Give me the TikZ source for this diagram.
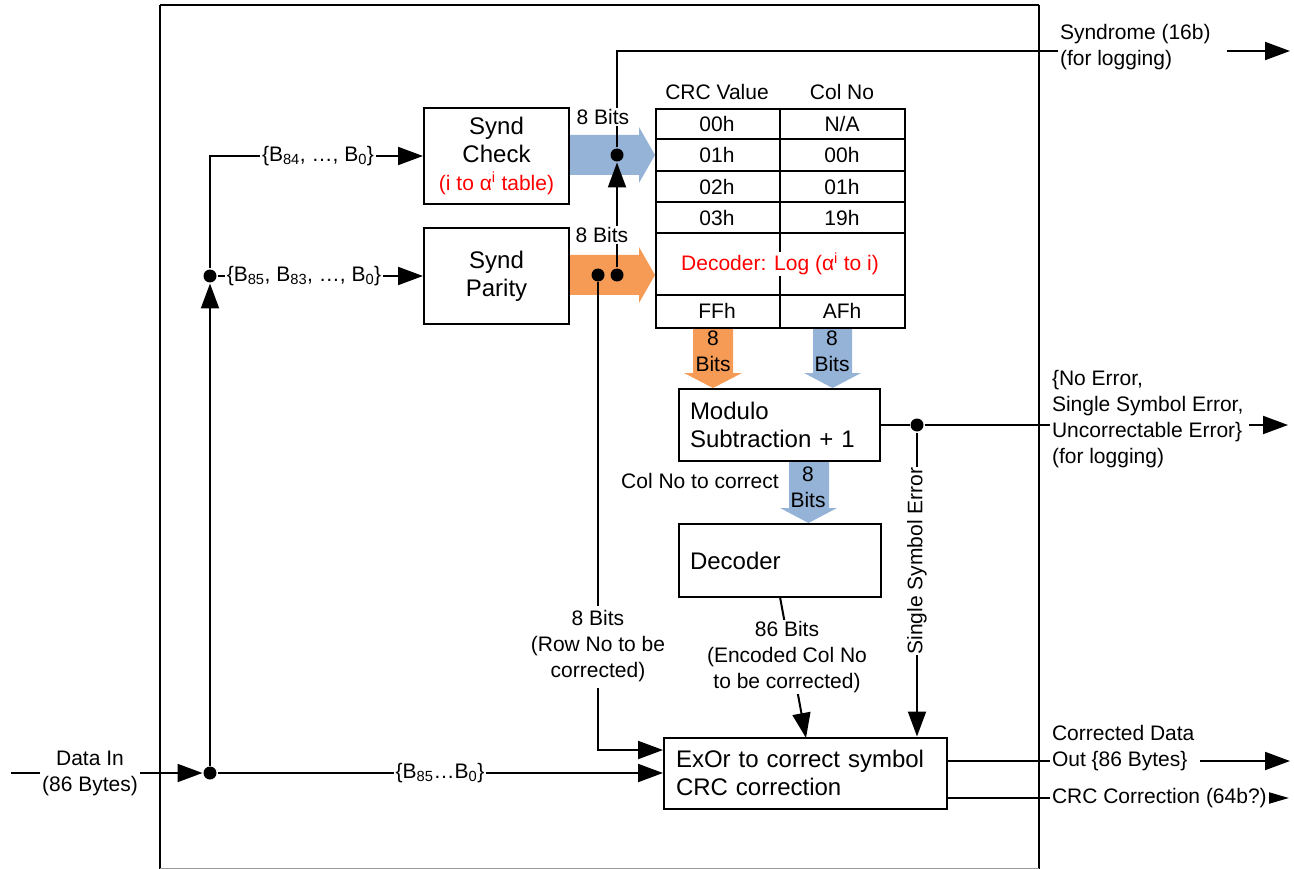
\documentclass[tikz,border=0pt]{standalone}
\usepackage{fontspec}
\setmainfont{Liberation Sans}
\usetikzlibrary{arrows.meta,calc}
\definecolor{bfill}{HTML}{95B3D7}
\definecolor{ofill}{HTML}{F69B55}
\newcommand\boxfont{\fontsize{24}{28}\selectfont}
\newcommand\lblfont{\fontsize{21}{26}\selectfont}
\begin{document}
\begin{tikzpicture}[x=1pt,y=-1pt,line width=2pt,
  box/.style={draw, line width=2pt, fill=white, font=\boxfont},
  lbl/.style={font=\lblfont, align=center, inner sep=1pt},
  wlbl/.style={lbl, fill=white},
  llbl/.style={lbl, align=left, anchor=west},
  tip/.style={-{Triangle[length=25pt,width=18pt]}},
  smalltip/.style={-{Triangle[length=20pt,width=11pt]}},
  dot/.style={circle, fill=black, inner sep=0pt, minimum size=13pt},
  cell/.style={font=\lblfont, inner sep=1pt}]
\useasboundingbox (0,0) rectangle (1294,869);
% frame
\draw (160,5) -- (160,870) (1039,5) -- (1039,870) (160,5) -- (1039,5);
\draw[line width=1pt, black!40] (160,868.5) -- (1039,868.5);
% fat arrows
\fill[bfill] (569,135) -- (639,135) -- (639,127) -- (655,155) -- (639,183) -- (639,175) -- (569,175) -- cycle;
\fill[ofill] (569,255) -- (639,255) -- (639,247) -- (655,275) -- (639,303) -- (639,295) -- (569,295) -- cycle;
\fill[ofill] (693,327) -- (733,327) -- (733,373) -- (742,373) -- (713,388) -- (684,373) -- (693,373) -- cycle;
\fill[bfill] (813,327) -- (852,327) -- (852,373) -- (861,373) -- (832.5,388) -- (804,373) -- (813,373) -- cycle;
\fill[bfill] (789,461) -- (829,461) -- (829,508) -- (837,508) -- (808.5,523) -- (780,508) -- (789,508) -- cycle;
\node[lbl] (o8) at (713,351) {8\\Bits};
\node[lbl] (b8) at (832,351) {8\\Bits};
\node[lbl] (m8) at (808,487.5) {8\\Bits};
% boxes
\node[box, minimum width=145pt, minimum height=96pt, align=center] (sc) at (496.5,156)
  {Synd\\Check\\{\fontsize{21}{28}\selectfont\color{red}(i to α\textsuperscript{i} table)}};
\node[box, minimum width=145pt, minimum height=96pt, align=center] (sp) at (496.5,276) {Synd\\Parity};
\node[box, minimum width=201pt, minimum height=72pt, text width=179pt, inner xsep=11pt, align=left] (mod) at (779.5,425) {Modulo\\Subtraction + 1};
\node[box, minimum width=202pt, minimum height=73pt, text width=180pt, inner xsep=11pt, align=left] (dec) at (780,560.5) {Decoder};
\node[box, minimum width=283pt, minimum height=71pt, text width=259pt, inner xsep=12pt, align=left] (ex) at (805.5,773) {ExOr to correct symbol\\CRC correction};
% table
\node[draw, anchor=north west, minimum width=249pt, minimum height=219pt, inner sep=0pt] (tbl) at (655,108) {};
\foreach \yy in {139,171,202,233,295} \draw (655,\yy) -- (904,\yy);
\draw (780,108) -- (780,327);
\node[cell] (hc) at (717,92) {CRC Value};
\node[cell] (hn) at (842,92) {Col No};
\node[cell] (c0) at (717,123.5) {00h};
\node[cell] (n0) at (842,123.5) {N/A};
\node[cell] (c1) at (717,155) {01h};
\node[cell] (n1) at (842,155) {00h};
\node[cell] (c2) at (717,186.5) {02h};
\node[cell] (n2) at (842,186.5) {01h};
\node[cell] (c3) at (717,217.5) {03h};
\node[cell] (n3) at (842,217.5) {19h};
\node[cell] (cf) at (717,311) {FFh};
\node[cell] (nf) at (842,311) {AFh};
\node[cell, fill=white, text=red] (log) at (780,264) {Decoder: Log (α\textsuperscript{i} to i)};
% outside labels
\node[llbl] (syn) at (1058,47) {Syndrome (16b)\\(for logging)};
\node[llbl] (err) at (1050,419) {\{No Error,\\Single Symbol Error,\\Uncorrectable Error\}\\(for logging)};
\node[llbl] (cdo) at (1050,748) {Corrected Data\\Out \{86 Bytes\}};
\node[llbl] (crc) at (1050,798) {CRC Correction (64b?)};
\node[lbl] (din) at (90,773) {Data In\\(86 Bytes)};
\node[lbl] (b84) at (318,156) {\{B\textsubscript{84}, …, B\textsubscript{0}\}};
\node[lbl] (b85) at (304,276) {\{B\textsubscript{85}, B\textsubscript{83}, …, B\textsubscript{0}\}};
\node[lbl] (ball) at (440,773) {\{B\textsubscript{85}…B\textsubscript{0}\}};
\node[lbl] (cnc) at (700,481) {Col No to correct};
% junctions
\node[dot] (jBlue) at (617,155) {};
\node[dot] (jOr1) at (617,275) {};
\node[dot] (jOr2) at (598,275) {};
\node[dot] (jMod) at (917,425) {};
\node[dot] (jIn) at (210,773) {};
\node[dot] (jMid) at (210,276) {};
\coordinate (jTop) at (617,51);
\coordinate (jUp) at (210,156);
\coordinate (jRow) at (598,750);
\coordinate (synEnd) at (1290,51);
\coordinate (errEnd) at (1288,425);
\coordinate (cdoEnd) at (1290,761);
\coordinate (crcEnd) at (1289,798);
\coordinate (dinStart) at (11,773);
\coordinate (decOut) at (780,597);
\coordinate (exIn) at (806,738);
\coordinate (exO1) at (947,761);
\coordinate (exO2) at (947,798);
% connectors
\draw (jBlue) -- (jTop) -- (jTop -| syn.west);
\draw[tip] ($(syn.east |- jTop)+(14,0)$) -- (synEnd);
\draw[tip] (jOr1) -- (jBlue);
\draw (jOr2) -- (jRow |- 0,606);
\draw[tip] (jRow |- 0,688) -- (jRow) -- (jRow -| ex.west);
\draw (dinStart) -- (din.west);
\draw[tip] (din.east) -- (jIn);
\draw[tip] (jIn) -- (jMid);
\draw (jMid) -- (jUp) -- (b84.west);
\draw[tip] (b84.east) -- (sc.west);
\draw (jMid) -- (b85.west);
\draw[tip] (b85.east) -- (sp.west);
\draw (jIn) -- (ball.west);
\draw[tip] (ball.east) -- (ex.west);
\draw (mod.east) -- (jMod) -- (err.west |- jMod);
\draw[tip] ($(err.east |- jMod)+(4,0)$) -- (errEnd);
\draw[tip] (jMod) -- (jMod |- ex.north);
\draw[tip] (decOut) -- (exIn);
\draw (exO1) -- (cdo.west |- exO1);
\draw[tip] ($(cdo.east |- exO1)+(4,0)$) -- (cdoEnd);
\draw (exO2) -- (crc.west);
\draw[smalltip] (crc.east) -- (crcEnd);
% labels over lines
\node[wlbl] (t1) at (603,117) {8 Bits};
\node[wlbl] (t2) at (602,235) {8 Bits};
\node[wlbl] (row) at (598,646) {8 Bits\\(Row No to be\\corrected)};
\node[wlbl] (enc) at (787,657) {86 Bits\\(Encoded Col No\\to be corrected)};
\node[wlbl, rotate=90] (sse) at (917,561) {Single Symbol Error};
\end{tikzpicture}
\end{document}
